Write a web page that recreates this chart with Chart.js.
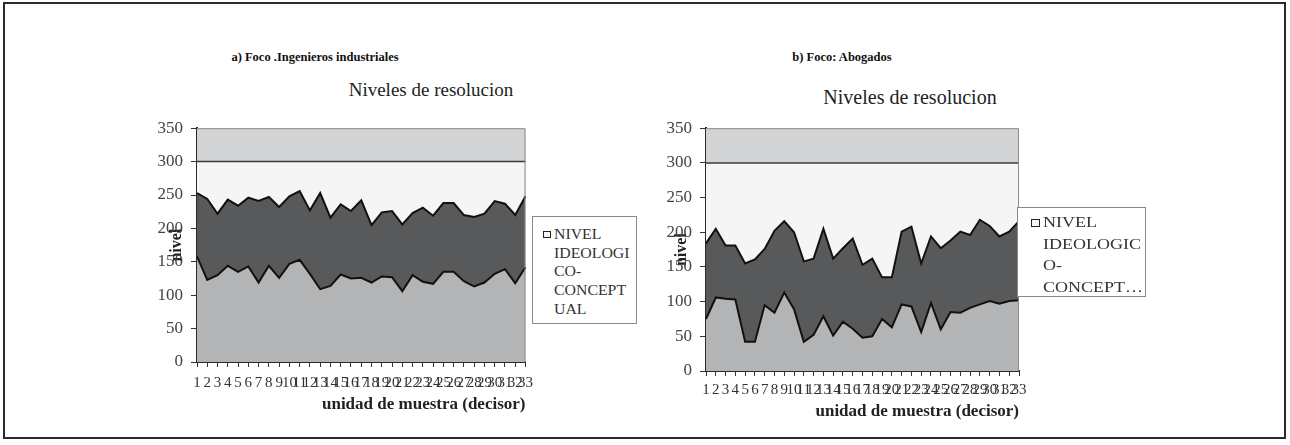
<!DOCTYPE html>
<html>
<head>
<meta charset="utf-8">
<script src="https://cdn.jsdelivr.net/npm/chart.js@4.4.0/dist/chart.umd.min.js"></script>
<style>
  body { margin: 0; background: #fff; font-family: "Liberation Serif", "Times New Roman", serif; }
  #frame { position: absolute; left: 3px; top: 2px; width: 1283px; height: 437px; border: 2px solid #2b2b2b; box-sizing: border-box; }
  .abs { position: absolute; }
  .sub { font-size: 12.5px; font-weight: bold; color: #111; white-space: nowrap; transform: translate(-50%, -50%); }
  .ttl { color: #222; white-space: nowrap; transform: translate(-50%, -50%); }
  .legend { border: 1px solid #8a8a8a; background: #fff; color: #333; box-sizing: border-box; white-space: nowrap; }
  .legend .txt { display: inline-block; transform-origin: 0 0; }
  .mark { position: absolute; border: 1px solid #222; background: #f4f5f4; box-sizing: border-box; }
</style>
</head>
<body>
<div id="frame"></div>

<div class="abs sub" style="left:315px; top:57px;">a) Foco .Ingenieros industriales</div>
<div class="abs sub" style="left:842px; top:57px;">b) Foco: Abogados</div>

<div class="abs ttl" style="left:431px; top:90px; font-size:19px;">Niveles de resolucion</div>
<div class="abs ttl" style="left:910px; top:97px; font-size:20px;">Niveles de resolucion</div>

<div class="abs" style="left:130px; top:110px;"><canvas id="chartA" width="410" height="310"></canvas></div>
<div class="abs" style="left:620px; top:110px;"><canvas id="chartB" width="420" height="315"></canvas></div>

<div class="abs legend" style="left:532px; top:216px; width:105px; height:108px; font-size:14px; line-height:18.7px; padding:9px 0 0 21px;">
  <div class="mark" style="left:10px; top:14px; width:8px; height:7px;"></div>
  <span class="txt" style="transform:scaleX(1.13);">NIVEL<br>IDEOLOGI<br>CO-<br>CONCEPT<br>UAL</span>
</div>
<div class="abs legend" style="left:1017px; top:207px; width:129px; height:90px; font-size:15px; line-height:21.5px; padding:4px 0 0 25px;">
  <div class="mark" style="left:13px; top:11px; width:9px; height:8px;"></div>
  <span class="txt" style="transform:scaleX(1.2);">NIVEL<br>IDEOLOGIC<br>O-<br>CONCEPT…</span>
</div>

<script>
const units = [];
for (let i = 1; i <= 33; i++) units.push(String(i));

const yTicks = [0, 50, 100, 150, 200, 250, 300, 350];

// a) Ingenieros industriales
const ingBase = [158,123,130,144,135,143,119,144,126,147,153,132,109,114,131,125,126,119,128,127,106,130,120,117,135,135,121,113,119,132,139,118,142];
const ingMid  = [95,121,92,99,99,103,122,103,106,101,103,95,144,102,105,101,116,86,96,99,100,93,111,102,103,103,99,104,103,109,98,102,106];
const ingIdeo = [47,56,78,57,66,54,59,53,68,52,44,73,47,84,64,74,58,95,76,74,94,77,69,81,62,62,80,83,78,59,63,80,52];

// b) Abogados
const aboBase = [75,106,104,103,42,42,95,84,113,89,42,52,79,51,71,61,48,50,75,63,96,93,56,98,60,85,84,91,96,101,97,101,102];
const aboMid  = [109,99,77,78,113,119,81,118,103,111,116,110,126,111,106,130,105,112,60,72,105,115,99,96,117,103,117,105,122,108,97,100,114];
const aboIdeo = [116,95,119,119,145,139,124,98,84,100,142,138,95,138,123,109,147,138,165,165,99,92,145,106,123,112,99,104,82,91,106,99,84];

const FONT = 'Liberation Serif';

// plot area: grey background, thin grey frame on top/right
const plotBg = {
  id: 'plotBg',
  beforeDatasetsDraw(chart) {
    const { ctx, chartArea: a } = chart;
    ctx.save();
    ctx.fillStyle = '#d2d3d4';
    ctx.fillRect(a.left, a.top, a.right - a.left, a.bottom - a.top);
    ctx.restore();
  },
  afterDatasetsDraw(chart) {
    const { ctx, chartArea: a } = chart;
    ctx.save();
    ctx.strokeStyle = '#8c8c8c';
    ctx.lineWidth = 1;
    ctx.beginPath();
    ctx.moveTo(a.left, a.top + 0.5);
    ctx.lineTo(a.right - 0.5, a.top + 0.5);
    ctx.lineTo(a.right - 0.5, a.bottom);
    ctx.stroke();
    ctx.restore();
  }
};

function makeChart(id, base, mid, ideo, cfg) {
  new Chart(document.getElementById(id), {
    type: 'line',
    data: {
      labels: units,
      datasets: [
        { label: 'NIVEL BASE', data: base, fill: 'origin', backgroundColor: '#b3b4b6', borderColor: '#111', borderWidth: 2 },
        { label: 'NIVEL INTERMEDIO', data: mid, fill: '-1', backgroundColor: '#58595b', borderColor: '#111', borderWidth: 2 },
        { label: 'NIVEL IDEOLOGICO-CONCEPTUAL', data: ideo, fill: '-1', backgroundColor: '#f4f5f4', borderColor: '#3a3a3a', borderWidth: 1.5 }
      ]
    },
    options: {
      responsive: false,
      animation: false,
      elements: { point: { radius: 0 }, line: { tension: 0, borderJoinStyle: 'miter' } },
      layout: { padding: { top: cfg.top, right: cfg.right, left: 0, bottom: 0 } },
      plugins: { legend: { display: false }, tooltip: { enabled: false } },
      scales: {
        x: {
          z: 1,
          offset: false,
          grid: { drawOnChartArea: false, offset: false, tickLength: 5, tickColor: '#333' },
          border: { color: '#2a2a2a', width: 2 },
          ticks: { autoSkip: false, maxRotation: 0, minRotation: 0, padding: cfg.xPad, color: '#333', font: { family: FONT, size: 15 } },
          title: { display: true, text: 'unidad de muestra (decisor)', align: 'end', color: '#222',
                   font: { family: FONT, size: 17, weight: 'bold' }, padding: { top: 0, bottom: cfg.xtPad } },
          afterFit(s) { s.height = cfg.xh; }
        },
        y: {
          z: 1,
          stacked: true,
          min: yTicks[0],
          max: yTicks[yTicks.length - 1],
          afterBuildTicks(s) { s.ticks = yTicks.map(v => ({ value: v })); },
          grid: { drawOnChartArea: false, tickLength: 6, tickColor: '#333' },
          border: { color: '#2a2a2a', width: 2 },
          ticks: { padding: 8, color: '#444', font: { family: FONT, size: 17 } },
          title: { display: true, text: 'nivel', color: '#222',
                   font: { family: FONT, size: 16, weight: 'bold' }, padding: { top: cfg.ytPad, bottom: 0 } },
          afterFit(s) { s.width = cfg.yw; }
        }
      }
    },
    plugins: [plotBg]
  });
}

makeChart('chartA', ingBase, ingMid, ingIdeo, { top: 13, right: 13, yw: 67, xh: 58, xPad: 7, xtPad: 5, ytPad: 37 });
makeChart('chartB', aboBase, aboMid, aboIdeo, { top: 14, right: 21, yw: 86, xh: 54, xPad: 5, xtPad: 3, ytPad: 52 });
</script>
</body>
</html>
